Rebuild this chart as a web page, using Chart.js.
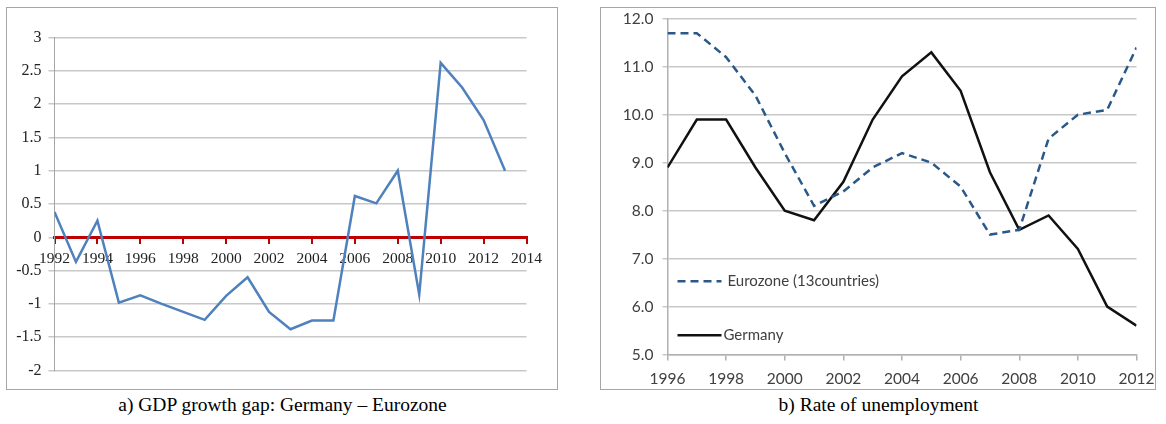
<!DOCTYPE html>
<html>
<head>
<meta charset="utf-8">
<script src="https://cdn.jsdelivr.net/npm/chart.js@4"></script>
<style>
  body { margin: 0; background: #fff; width: 1166px; height: 424px; position: relative; overflow: hidden; }
  .box { position: absolute; border: 1.5px solid #a6a6a6; }
  .box canvas { display: block; }
  .caption { position: absolute; top: 394px; font-family: "Liberation Serif", "Times New Roman", serif; font-size: 19.5px; color: #000; text-align: center; }
</style>
</head>
<body>
<div class="box" style="left:6px;top:7px;width:550px;height:381px;"><canvas id="gapChart" width="550" height="381"></canvas></div>
<div class="box" style="left:600px;top:7px;width:554px;height:381px;"><canvas id="unempChart" width="554" height="381"></canvas></div>
<div class="caption" style="left:6px;width:553px;">a) GDP growth gap: Germany – Eurozone</div>
<div class="caption" style="left:600px;width:557px;">b) Rate of unemployment</div>
<script>
// left chart: GDP growth gap
const gapYears = [1992, 1993, 1994, 1995, 1996, 1997, 1998, 1999, 2000, 2001, 2002,
  2003, 2004, 2005, 2006, 2007, 2008, 2009, 2010, 2011, 2012, 2013];
const gapValues = [0.38, -0.37, 0.25, -0.98, -0.87, -1.0, -1.12, -1.24, -0.88, -0.6, -1.12,
  -1.38, -1.25, -1.25, 0.62, 0.51, 1.0, -0.86, 2.62, 2.25, 1.76, 1.0];

// right chart: unemployment
const unempYears = [1996, 1997, 1998, 1999, 2000, 2001, 2002, 2003, 2004,
  2005, 2006, 2007, 2008, 2009, 2010, 2011, 2012];
const eurozone = [11.7, 11.7, 11.2, 10.4, 9.2, 8.1, 8.4, 8.9, 9.2,
  9.0, 8.5, 7.5, 7.6, 9.5, 10.0, 10.1, 11.4];
const germany = [8.9, 9.9, 9.9, 8.9, 8.0, 7.8, 8.6, 9.9, 10.8,
  11.3, 10.5, 8.8, 7.6, 7.9, 7.2, 6.0, 5.6];
const eurozoneLabel = "Eurozone (13countries)";
const germanyLabel = "Germany";

const serif = '"Liberation Serif", "Times New Roman", serif';
const sans = 'Lato, "Open Sans", sans-serif';

function toPoints(xs, ys) {
  return xs.map((x, i) => ({ x: x, y: ys[i] }));
}

// keep edge tick labels from shrinking the plot area
function noOverhang(s) {
  s.paddingLeft = 0;
  s.paddingRight = 0;
}

new Chart(document.getElementById("gapChart"), {
  type: "line",
  data: {
    datasets: [{
      data: toPoints(gapYears, gapValues),
      borderColor: "#4f81bd",
      borderWidth: 2.5,
      pointRadius: 0,
      tension: 0,
    }],
  },
  options: {
    responsive: false,
    animation: false,
    layout: { padding: { top: 29.5, right: 30.5, bottom: 18.5, left: 0 } },
    plugins: { legend: { display: false }, tooltip: { enabled: false } },
    scales: {
      x: {
        type: "linear",
        position: { y: 0 },
        min: 1992,
        max: 2014,
        afterFit: noOverhang,
        border: { color: "#c00000", width: 3 },
        grid: { drawOnChartArea: false, color: "#c00000", lineWidth: 2, tickLength: 5 },
        ticks: {
          stepSize: 2,
          autoSkip: false,
          padding: 7,
          color: "#222",
          font: { family: serif, size: 15.5 },
          maxRotation: 0,
          callback: (v) => String(v),
        },
      },
      y: {
        min: -2,
        max: 3,
        afterFit: (s) => { s.width = 47.5; },
        border: { color: "#a6a6a6", width: 1 },
        grid: { color: "#c8c8c8", lineWidth: 1.5, tickLength: 6 },
        ticks: {
          stepSize: 0.5,
          autoSkip: false,
          padding: 7,
          color: "#222",
          font: { family: serif, size: 16 },
          callback: (v) => String(Math.round(v * 10) / 10),
        },
      },
    },
  },
});

// legend drawn inside the plot area, lower left
const insideLegend = {
  id: "insideLegend",
  afterDraw(chart) {
    const ctx = chart.ctx;
    const ys = chart.scales.y;
    const left = chart.chartArea.left;
    const items = [
      { ds: chart.data.datasets[0], y: ys.getPixelForValue(6.53), tx: 60 },
      { ds: chart.data.datasets[1], y: ys.getPixelForValue(5.4), tx: 56 },
    ];
    ctx.save();
    items.forEach((it) => {
      ctx.beginPath();
      ctx.strokeStyle = it.ds.borderColor;
      ctx.lineWidth = it.ds.borderWidth;
      ctx.setLineDash(it.ds.borderDash || []);
      ctx.moveTo(left + 10, it.y);
      ctx.lineTo(left + 54, it.y);
      ctx.stroke();
      ctx.setLineDash([]);
      ctx.fillStyle = "#404040";
      ctx.font = "15px " + sans;
      ctx.textBaseline = "middle";
      ctx.fillText(it.ds.label, left + it.tx, it.y);
    });
    ctx.restore();
  },
};

new Chart(document.getElementById("unempChart"), {
  type: "line",
  data: {
    datasets: [
      {
        label: eurozoneLabel,
        data: toPoints(unempYears, eurozone),
        borderColor: "#2a5889",
        borderWidth: 2.5,
        borderDash: [8, 5],
        pointRadius: 0,
        tension: 0,
      },
      {
        label: germanyLabel,
        data: toPoints(unempYears, germany),
        borderColor: "#111",
        borderWidth: 2.5,
        pointRadius: 0,
        tension: 0,
      },
    ],
  },
  options: {
    responsive: false,
    animation: false,
    layout: { padding: { top: 10.8, right: 18.5, bottom: 1.5, left: 0 } },
    plugins: { legend: { display: false }, tooltip: { enabled: false } },
    scales: {
      x: {
        type: "linear",
        min: 1996,
        max: 2012,
        afterFit: (s) => { s.height = 33; noOverhang(s); },
        border: { color: "#b0b0b0", width: 1.5 },
        grid: { drawOnChartArea: false, color: "#b0b0b0", lineWidth: 1.5, tickLength: 6 },
        ticks: {
          stepSize: 2,
          autoSkip: false,
          padding: 9,
          color: "#404040",
          font: { family: sans, size: 15.5 },
          maxRotation: 0,
          callback: (v) => String(v),
        },
      },
      y: {
        min: 5,
        max: 12,
        afterFit: (s) => { s.width = 66.5; s.paddingTop = 0; s.paddingBottom = 0; },
        border: { color: "#b0b0b0", width: 1.5 },
        grid: { color: "#c8c8c8", lineWidth: 1.5, tickLength: 5 },
        ticks: {
          stepSize: 1,
          autoSkip: false,
          padding: 9,
          color: "#404040",
          font: { family: sans, size: 15.5 },
          callback: (v) => v.toFixed(1),
        },
      },
    },
  },
  plugins: [insideLegend],
});
</script>
</body>
</html>
